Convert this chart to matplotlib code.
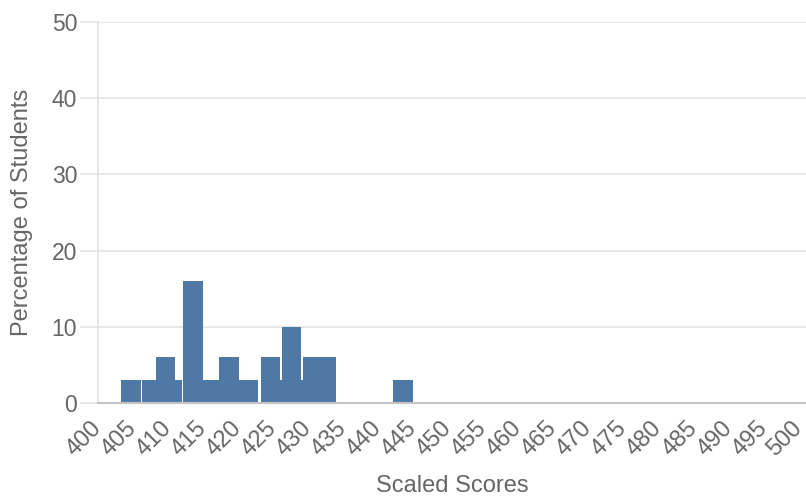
import numpy as np
import matplotlib
matplotlib.use("Agg")
import matplotlib.pyplot as plt
import matplotlib.transforms as mtransforms

plt.rcParams['font.family'] = ['Liberation Sans', 'DejaVu Sans']

# 数据
scores = [404.7, 407.6, 409.6, 410.6, 413.55, 415.9, 418.7, 421.5,
          424.6, 426.1, 427.6, 429.1, 430.6, 432.6, 443.5]
percent = [3, 3, 6, 3, 16, 3, 6, 3, 6, 3, 10, 3, 6, 6, 3]
x_ticks = list(range(400, 501, 5))
y_ticks = [0, 10, 20, 30, 40, 50]

bar_color = '#4e79a7'
text_color = '#666666'
grid_color = '#e3e3e3'

fig = plt.figure(figsize=(8.06, 4.97), dpi=100)
ax = fig.add_axes([98 / 806, (497 - 403) / 497, 708 / 806, 381 / 497])

# bars
for s, p in zip(scores, percent):
    ax.bar(s, p, width=2.78, color=bar_color, linewidth=0, zorder=3)

ax.set_xlim(400, 501)
ax.set_ylim(0, 50)
ax.set_xticks(x_ticks)
ax.set_xticklabels([str(t) for t in x_ticks], rotation=45, ha='right',
                   va='top', rotation_mode='anchor')
ax.set_yticks(y_ticks)

ax.grid(axis='y', color=grid_color, linewidth=1.2, zorder=0)
ax.tick_params(axis='y', length=13, color=grid_color, width=1.2,
               labelsize=16.5, labelcolor=text_color, pad=2)
ax.tick_params(axis='x', length=0, labelsize=17, labelcolor=text_color, pad=10)

# 标签稍微左移
offset = mtransforms.ScaledTranslation(-8 / 100, 0, fig.dpi_scale_trans)
for lab in ax.get_xticklabels():
    lab.set_transform(lab.get_transform() + offset)

for side in ['top', 'right']:
    ax.spines[side].set_visible(False)
ax.spines['left'].set_color(grid_color)
ax.spines['left'].set_linewidth(1.2)
ax.spines['bottom'].set_color('#c4c4c4')
ax.spines['bottom'].set_linewidth(1.5)
ax.spines['bottom'].set_zorder(4)

ax.set_ylabel('Percentage of Students', fontsize=17, color=text_color)
ax.set_xlabel('Scaled Scores', fontsize=17, color=text_color)
ax.yaxis.set_label_coords(-0.092, 0.5)
ax.xaxis.set_label_coords(0.5, -0.19)

fig.savefig('out.png', dpi=100)
